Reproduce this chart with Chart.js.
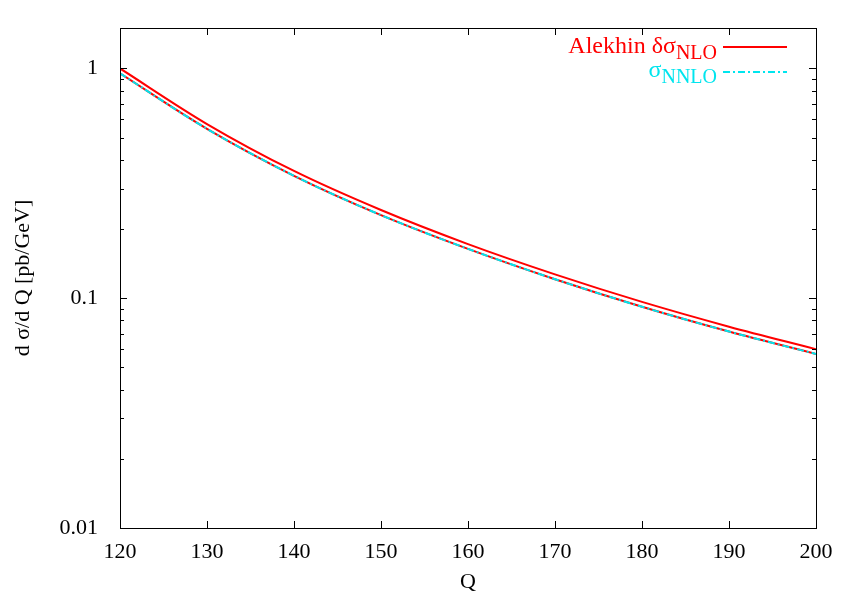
<!DOCTYPE html>
<html lang="en">
<head>
  <meta charset="UTF-8">
  <title>d sigma / d Q</title>
  <script src="https://cdn.jsdelivr.net/npm/chart.js"></script>
  <style>
    html, body { margin: 0; padding: 0; background: #fff; }
  </style>
</head>
<body>
  <canvas id="chart" width="856" height="599"></canvas>

  <script>
    // values
    const qValues = [120, 130, 140, 150, 160, 170, 180, 190, 200];
    const alekhinUpper = [1.0, 0.573, 0.358, 0.242, 0.172, 0.127, 0.0964, 0.0752, 0.060];
    const alekhinLower = [0.952, 0.546, 0.341, 0.230, 0.164, 0.121, 0.0918, 0.0716, 0.0572];
    const nnlo = [0.952, 0.546, 0.341, 0.230, 0.164, 0.121, 0.0918, 0.0716, 0.0572];
    const xTicks = [120, 130, 140, 150, 160, 170, 180, 190, 200];
    const yTicks = [0.01, 0.1, 1];

    const serif = '"Liberation Serif"';
    const toPoints = ys => qValues.map((q, i) => ({ x: q, y: ys[i] }));

    // frame, inward ticks and the key, drawn like gnuplot does
    const framePlugin = {
      id: 'frame',
      afterDraw(chart) {
        const ctx = chart.ctx;
        const a = chart.chartArea;
        const xs = chart.scales.x, ys = chart.scales.y;
        ctx.save();
        ctx.strokeStyle = '#000';
        ctx.lineWidth = 1;
        ctx.strokeRect(a.left + 0.5, a.top + 0.5, a.right - a.left, a.bottom - a.top);

        ctx.beginPath();
        xTicks.forEach(v => {
          const px = Math.round(xs.getPixelForValue(v)) + 0.5;
          ctx.moveTo(px, a.bottom); ctx.lineTo(px, a.bottom - 7);
          ctx.moveTo(px, a.top); ctx.lineTo(px, a.top + 7);
        });
        for (let d = -2; d <= 0; d++) {
          for (let k = 1; k <= 9; k++) {
            const v = k * Math.pow(10, d);
            if (v > ys.max || v < ys.min) continue;
            const len = k === 1 ? 7 : 4;
            const py = Math.round(ys.getPixelForValue(v)) + 0.5;
            ctx.moveTo(a.left, py); ctx.lineTo(a.left + len, py);
            ctx.moveTo(a.right, py); ctx.lineTo(a.right - len, py);
          }
        }
        ctx.stroke();

        // key
        const keyEntries = [
          { main: 'Alekhin δσ', sub: 'NLO', color: '#ff0000', dash: [], y: 47, base: 53 },
          { main: 'σ', sub: 'NNLO', color: '#00e5ee', dash: [7, 3, 2, 3], y: 72, base: 77 }
        ];
        keyEntries.forEach(e => {
          ctx.font = '24px ' + serif;
          const w1 = ctx.measureText(e.main).width;
          ctx.font = '20px ' + serif;
          const w2 = ctx.measureText(e.sub).width;
          const x0 = 717 - w1 - w2;
          ctx.fillStyle = e.color;
          ctx.textAlign = 'left';
          ctx.textBaseline = 'alphabetic';
          ctx.font = '24px ' + serif;
          ctx.fillText(e.main, x0, e.base);
          ctx.font = '20px ' + serif;
          ctx.fillText(e.sub, x0 + w1, e.base + 6);
          ctx.strokeStyle = e.color;
          ctx.lineWidth = 2;
          ctx.setLineDash(e.dash);
          ctx.beginPath();
          ctx.moveTo(723, e.y); ctx.lineTo(787, e.y);
          ctx.stroke();
          ctx.setLineDash([]);
        });
        ctx.restore();
      }
    };

    function drawChart() {
      new Chart(document.getElementById('chart'), {
        type: 'line',
        data: {
          datasets: [
            {
              label: 'σNNLO',
              data: toPoints(nnlo),
              borderColor: '#00e5ee',
              borderWidth: 2,
              borderDash: [7, 3, 2, 3],
              pointRadius: 0,
              cubicInterpolationMode: 'monotone',
              fill: false
            },
            {
              label: 'Alekhin δσNLO',
              data: toPoints(alekhinUpper),
              borderColor: '#ff0000',
              borderWidth: 2,
              pointRadius: 0,
              cubicInterpolationMode: 'monotone',
              fill: false
            },
            {
              label: 'Alekhin δσNLO (lower)',
              data: toPoints(alekhinLower),
              borderColor: '#ff0000',
              borderWidth: 2,
              pointRadius: 0,
              cubicInterpolationMode: 'monotone',
              fill: false
            }
          ]
        },
        options: {
          responsive: false,
          animation: false,
          layout: { padding: { top: 28, right: 40, left: 0, bottom: 0 } },
          plugins: {
            legend: { display: false },
            tooltip: { enabled: false }
          },
          scales: {
            x: {
              type: 'linear',
              min: 120,
              max: 200,
              afterBuildTicks: s => { s.ticks = xTicks.map(v => ({ value: v })); },
              afterFit: s => { s.height = 71; },
              grid: { display: false },
              border: { display: false },
              ticks: { color: '#000', font: { family: serif, size: 22 }, padding: 3, maxRotation: 0 },
              title: { display: true, text: 'Q', color: '#000', font: { family: serif, size: 22 }, padding: { top: 0, bottom: 4 } }
            },
            y: {
              type: 'logarithmic',
              min: 0.01,
              max: 1.5,
              afterBuildTicks: s => { s.ticks = yTicks.map(v => ({ value: v })); },
              afterFit: s => { s.width = 120; },
              grid: { display: false },
              border: { display: false },
              ticks: {
                color: '#000',
                font: { family: serif, size: 22 },
                padding: 14,
                callback: v => String(v)
              },
              title: { display: true, text: 'd σ/d Q [pb/GeV]', color: '#000', font: { family: serif, size: 22 }, padding: { top: 10, bottom: 0 } }
            }
          }
        },
        plugins: [framePlugin]
      });
    }

    // make sure the serif face is ready before the canvas is painted
    Promise.all([
      document.fonts.load('22px "Liberation Serif"', 'Alekhin δσ 0.01'),
      document.fonts.load('20px "Liberation Serif"', 'NNLO')
    ]).then(drawChart, drawChart);
  </script>
</body>
</html>
